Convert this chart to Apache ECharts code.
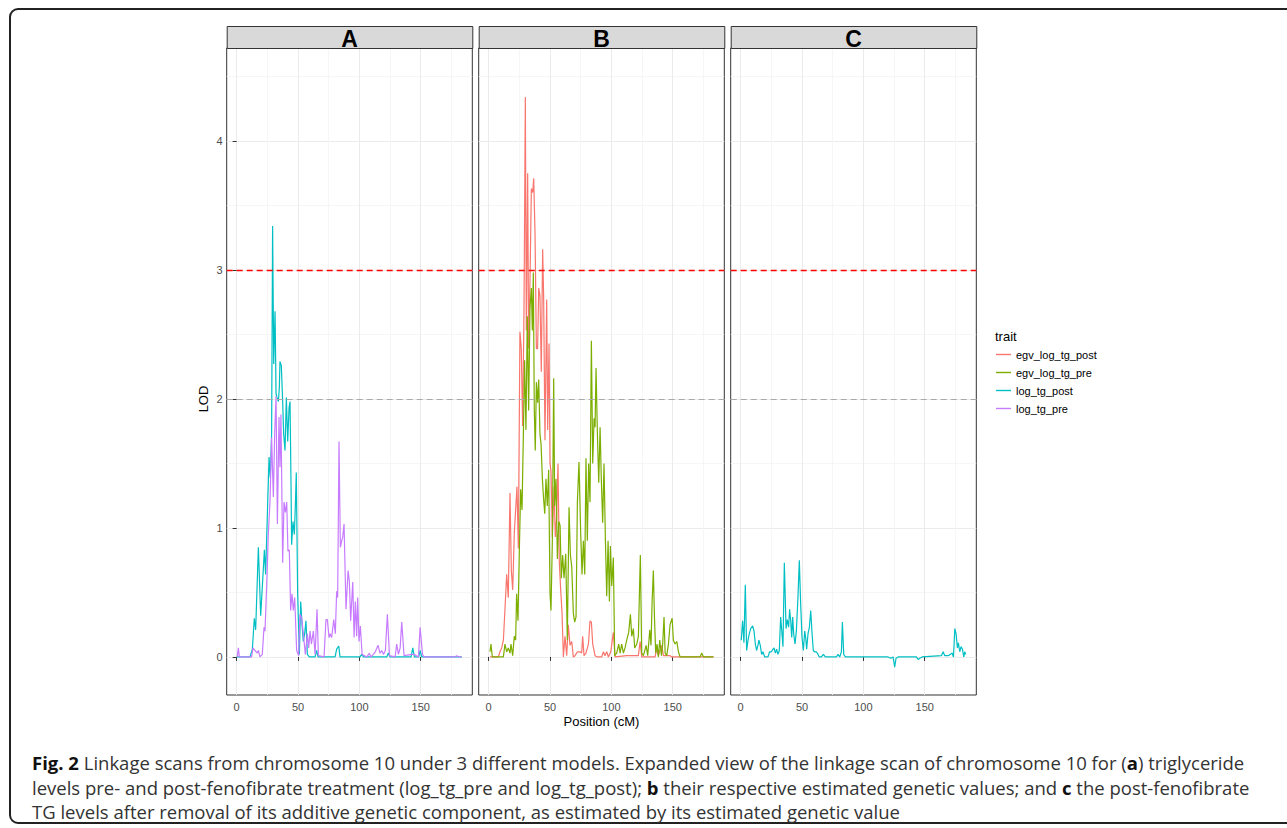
<!DOCTYPE html>
<html>
<head>
<meta charset="utf-8">
<script src="https://cdn.jsdelivr.net/npm/echarts@6/dist/echarts.min.js"></script>
<style>
  html, body { margin: 0; padding: 0; background: #fff; }
  #wrap { position: relative; width: 1287px; height: 828px; overflow: hidden; background: #fff; }
  #chart { position: absolute; left: 0; top: 0; width: 1287px; height: 828px; }
  #frame { position: absolute; left: 9px; top: 8px; width: 1320px; height: 816px; border: 2px solid #222; border-radius: 9px; box-sizing: border-box; pointer-events: none; }
  #caption { position: absolute; left: 32px; top: 751px; font-family: "Open Sans", "Noto Sans", sans-serif; font-size: 18.5px; line-height: 24.5px; color: #333; white-space: nowrap; }
  #caption b { color: #111; font-weight: 700; }
</style>
</head>
<body>
<div id="wrap">
  <div id="chart"></div>
  <div id="frame"></div>
  <div id="caption">
    <b>Fig. 2</b> Linkage scans from chromosome 10 under 3 different models. Expanded view of the linkage scan of chromosome 10 for (<b>a</b>) triglyceride<br>
    levels pre- and post-fenofibrate treatment (log_tg_pre and log_tg_post); <b>b</b> their respective estimated genetic values; and <b>c</b> the post-fenofibrate<br>
    TG levels after removal of its additive genetic component, as estimated by its estimated genetic value
  </div>
</div>
<script>
// ---------------- DATA ----------------
const panels = ['A', 'B', 'C'];
const traits = ['egv_log_tg_post', 'egv_log_tg_pre', 'log_tg_post', 'log_tg_pre'];
const traitColors = ['#F8766D', '#7CAE00', '#00BFC4', '#C77CFF'];
const xTicks = [0, 50, 100, 150];
const yTicks = [0, 1, 2, 3, 4];
const thresholdHigh = 3;
const thresholdLow = 2;

// Panel A: log_tg_post  [position cM, LOD]
const A_log_tg_post = [
  [0,0],[10.9,0],[12.8,0.06],[14.4,0.30],[15.5,0.21],[17.7,0.85],[19.6,0.32],[22.6,0.83],[23.6,0.64],
  [26.4,1.55],[27.4,1.39],[28.5,1.73],[29.3,3.34],[30.2,2.27],[31.3,2.68],[32.1,2.04],[32.9,2.01],
  [34.0,1.98],[34.8,2.09],[35.3,2.29],[36.4,2.26],[37.5,1.98],[38.3,1.73],[39.4,1.60],[40.5,2.01],
  [41.6,1.67],[42.7,1.93],[43.5,1.98],[44.3,1.34],[44.8,0.87],[45.9,1.05],[47.0,0.95],[47.8,1.16],
  [48.6,1.43],[49.7,0.49],[51.1,0.02],[52.2,0.43],[53.3,0.25],[54.3,0.12],[55.4,0.18],[56.5,0.28],
  [57.6,0.02],[59.2,0],[63.9,0],[65.2,0.05],[66.3,0],[80.2,0],[81.5,0.06],[83.2,0.085],[84.2,0],
  [100.5,0],[101.9,0.02],[103.3,0],[122.3,0],[123.6,0.03],[125,0],[142.1,0],[143.5,0.07],[144.8,0],
  [148.4,0],[149.5,0.05],[150.8,0],[183.4,0]
];
// Panel A: log_tg_pre
const A_log_tg_pre = [
  [0.5,0],[1.4,0.07],[2.2,0],[12.2,0],[13.3,0.07],[14.9,0.05],[16.8,0.03],[17.7,0.05],[19.0,0],
  [20.9,0.02],[22.3,0.23],[23.1,0.20],[24.5,0.56],[25.8,0.95],[27.2,1.21],[28.5,1.70],[29.9,1.24],
  [31.0,1.73],[32.1,2.02],[33.2,1.03],[34.5,1.86],[35.3,1.47],[36.1,1.88],[37.5,0.73],[38.6,1.20],
  [39.7,1.12],[40.8,1.20],[41.8,0.82],[42.9,0.83],[44.0,0.36],[45.1,0.49],[46.2,0.36],[47.3,0.46],
  [48.9,0.05],[50.5,0.01],[51.6,0.33],[53.0,0.30],[54.3,0.18],[56.0,0.02],[57.6,0.18],[58.7,0.07],
  [59.8,0.20],[60.9,0.10],[62.5,0.20],[63.9,0.02],[65.5,0.37],[66.6,0.01],[71.2,0],[72.8,0.29],
  [73.9,0.29],[75.3,0.15],[76.1,0.18],[77.4,0.15],[79.1,0.29],[80.4,0.18],[81.5,0.51],[82.3,0.46],
  [83.4,1.67],[84.5,0.85],[85.6,0.90],[86.4,0.93],[87.5,1.03],[89.1,0.37],[90.8,0.67],[91.8,0.59],
  [92.9,0.28],[94.6,0.58],[95.7,0.15],[96.7,0.43],[97.8,0.16],[98.6,0.46],[99.7,0.12],[100.8,0.24],
  [102.2,0.02],[106.0,0],[108.2,0.03],[109.2,0],[111.4,0.02],[113.0,0.04],[115.2,0.09],[116.8,0.03],
  [118.2,0.05],[119.6,0.02],[121.2,0.05],[122.8,0.33],[124.5,0.01],[129.1,0],[130.4,0.10],[131.8,0.02],
  [133.2,0.07],[134.5,0.27],[136.4,0.01],[142.7,0.02],[144.6,0.02],[148.1,0],[149.5,0.23],[151.4,0.02],
  [152.7,0],[178.0,0],[179.3,0.01],[180.7,0],[183.4,0]
];
// Panel B: egv_log_tg_post
const B_egv_log_tg_post = [
  [1.1,0],[7.9,0],[9.2,0.04],[10.6,0.07],[12.0,0.13],[13.3,0.37],[14.7,0.64],[16.0,0.46],[17.4,1.27],
  [18.5,0.67],[19.6,0.52],[20.9,0.96],[22.0,1.14],[23.1,1.32],[24.2,0.84],[25.5,2.52],[26.6,2.39],
  [27.7,1.79],[28.8,2.68],[29.9,4.34],[30.7,2.53],[31.8,3.75],[32.6,2.39],[33.7,2.92],[34.8,3.63],
  [35.9,3.60],[36.7,3.71],[37.8,3.28],[38.9,2.39],[39.9,2.39],[40.8,2.86],[41.8,2.80],[42.9,2.21],
  [44.0,3.16],[44.8,2.80],[45.9,1.68],[47.3,2.77],[48.1,1.76],[49.2,2.43],[50.0,1.50],[50.8,1.44],
  [51.9,0.93],[53.3,1.32],[54.3,0.93],[55.4,1.08],[56.5,1.50],[57.6,0.73],[58.7,0.52],[59.8,0.34],
  [60.9,0],[62.2,0.16],[63.6,0.01],[64.9,0.25],[66.3,0.09],[67.7,0.12],[69.0,0],[70.4,0.01],[72.3,0.04],
  [74.5,0.04],[75.8,0.03],[76.6,0.16],[77.7,0.01],[79.3,0.03],[81.3,0.10],[82.6,0.28],[83.7,0.27],
  [84.8,0.10],[86.7,0.01],[88.6,0],[92.1,0],[93.5,0.04],[94.8,0.01],[96.2,0.04],[97.6,0],[99.5,0.04],
  [101.6,0.19],[103.0,0],[112.5,0.01],[117.9,0.01],[122.0,0.01],[123.4,0.12],[124.7,0],[135.6,0],
  [137.0,0.07],[138.3,0.01],[141.0,0.09],[142.4,0.01],[147.8,0.01],[149.2,0],[183.2,0]
];
// Panel B: egv_log_tg_pre
const B_egv_log_tg_pre = [
  [1.1,0.04],[1.9,0.10],[3.0,0],[12.0,0],[13.3,0.10],[14.7,0.04],[16.0,0.07],[17.4,0.03],[18.2,0.10],
  [19.6,0.01],[20.9,0.16],[22.0,0.13],[22.8,0.49],[23.9,0.28],[25.0,0.82],[26.1,1.30],[27.2,1.14],
  [28.3,1.73],[29.3,2.30],[30.4,1.76],[31.5,2.64],[32.6,1.91],[33.7,2.71],[34.8,2.86],[35.6,2.53],
  [36.4,2.98],[37.2,1.91],[38.0,1.60],[38.9,2.13],[39.9,1.97],[40.8,2.15],[41.8,1.73],[42.7,1.65],
  [43.8,1.38],[44.6,1.25],[45.7,1.11],[46.7,1.38],[47.8,1.17],[48.9,1.45],[50.0,0.49],[50.8,0.36],
  [51.9,0.90],[53.0,2.16],[53.8,1.17],[54.9,1.38],[56.0,0.76],[57.1,1.05],[58.2,1.02],[59.2,0.61],
  [60.3,0.79],[61.4,0.61],[62.8,0.80],[64.1,0.13],[65.5,1.16],[66.6,0.79],[67.7,0.70],[69.0,0.34],
  [70.1,0.27],[71.2,0.31],[72.3,1.20],[73.6,1.51],[75.0,0.96],[76.1,0.64],[77.2,0.90],[78.3,0.64],
  [79.3,1.54],[80.4,0.90],[81.5,1.50],[82.6,1.20],[83.7,2.45],[84.8,1.50],[85.9,1.85],[86.7,1.78],
  [87.5,2.24],[88.6,1.73],[89.7,1.35],[90.8,1.78],[91.8,1.38],[92.9,1.04],[94.0,1.50],[95.1,0.92],
  [96.2,0.47],[97.3,0.90],[98.4,0.43],[99.2,0.86],[100.3,0.55],[101.6,0.77],[102.7,0.01],[104.3,0.03],
  [106.0,0.10],[107.1,0.03],[108.4,0.10],[109.8,0.03],[111.1,0.07],[112.5,0.13],[114.1,0.19],[115.5,0.33],
  [116.6,0.16],[117.9,0.22],[119.0,0.07],[120.7,0.10],[122.0,0.16],[123.6,0.79],[124.7,0.03],[126.1,0.01],
  [128.3,0.09],[129.6,0.01],[131.3,0.21],[132.3,0.09],[133.2,0.43],[134.2,0.67],[135.1,0.31],[136.1,0.03],
  [137.2,0.10],[138.3,0],[139.4,0.13],[140.8,0.01],[141.8,0.10],[142.9,0.31],[143.8,0.03],[145.1,0.01],
  [146.5,0.10],[147.8,0.25],[149.5,0.30],[150.5,0.13],[151.9,0.10],[153.3,0.12],[154.6,0.04],[156.0,0],
  [172.3,0],[173.6,0.03],[175.0,0],[183.2,0]
];
// Panel C: log_tg_post
const C_log_tg_post = [
  [0.5,0.13],[1.6,0.28],[2.7,0.11],[3.8,0.56],[4.9,0.05],[6.0,0.13],[7.1,0.18],[8.2,0.22],[9.8,0.24],
  [10.9,0.20],[12.0,0.10],[13.0,0.05],[14.1,0.09],[14.9,0.13],[16.0,0.09],[17.1,0.02],[18.2,0.04],
  [19.6,0],[22.3,0],[23.6,0.04],[25.0,0.04],[26.4,0.06],[27.2,0.07],[28.3,0.03],[29.3,0.06],[30.4,0.02],
  [31.5,0.05],[32.6,0.31],[33.7,0.18],[34.5,0.08],[35.6,0.73],[37.0,0.22],[38.0,0.29],[39.1,0.23],
  [39.9,0.37],[40.8,0.28],[41.6,0.15],[42.4,0.31],[43.2,0.18],[44.3,0.10],[45.4,0.20],[46.7,0.46],
  [47.8,0.75],[48.9,0.41],[50.0,0.15],[51.1,0.05],[52.2,0.20],[53.0,0.15],[53.8,0.06],[54.9,0.18],
  [56.0,0.23],[57.1,0.36],[58.2,0.18],[59.2,0.05],[60.3,0.04],[61.7,0.04],[63.0,0.02],[64.1,0],
  [65.8,0],[67.4,0.02],[69.0,0],[78.0,0],[79.3,0.02],[80.7,0],[82.1,0.04],[82.9,0.27],[84.0,0.02],
  [85.3,0],[103.8,0],[120.1,0],[122.3,-0.01],[124.2,0],[125.5,-0.08],[126.6,-0.01],[128.3,0],[143.2,0],
  [144.6,-0.02],[145.9,-0.01],[147.8,0],[163.6,0.01],[165.0,0.04],[166.3,0.01],[169.0,0.01],[170.9,0.02],
  [172.3,0.03],[173.4,0],[174.5,0.22],[175.5,0.18],[176.6,0.07],[177.4,0.11],[178.5,0.04],[179.6,0.08],
  [180.7,0.06],[181.8,0],[182.6,0.04],[183.4,0.02]
];

// ---------------- LAYOUT ----------------
const panelLeft = [226.7, 478.7, 730.7];
const panelW = 245.6, panelTop = 48, panelH = 647, stripH = 22;
const X_MIN = -8.1, X_MAX = 192, Y_MIN = -0.295, Y_MAX = 4.72;
const sansFont = '"Liberation Sans", Arial, Helvetica, sans-serif';

const chart = echarts.init(document.getElementById('chart'), null, { renderer: 'svg' });

const grids = panelLeft.map(l => ({
  left: l, top: panelTop, width: panelW, height: panelH,
  show: true, borderColor: '#333', borderWidth: 1, backgroundColor: 'transparent', containLabel: false
}));

const xAxes = panelLeft.map((l, i) => ({
  type: 'value', gridIndex: i, min: X_MIN, max: X_MAX,
  axisLine: { show: false },
  axisTick: { show: true, length: 4, lineStyle: { color: '#333', width: 1 }, customValues: xTicks },
  axisLabel: { show: true, customValues: xTicks, color: '#4d4d4d', fontSize: 11, margin: 6, fontFamily: sansFont },
  splitLine: { show: true, lineStyle: { color: '#ebebeb', width: 1 } },
  minorTick: { show: false, splitNumber: 2 },
  minorSplitLine: { show: true, lineStyle: { color: '#f4f4f4', width: 0.8 } }
}));

const yAxes = panelLeft.map((l, i) => ({
  type: 'value', gridIndex: i, min: Y_MIN, max: Y_MAX,
  axisLine: { show: false },
  axisTick: { show: i === 0, length: 4, lineStyle: { color: '#333', width: 1 }, customValues: yTicks },
  axisLabel: { show: i === 0, customValues: yTicks, color: '#4d4d4d', fontSize: 11, margin: 4, fontFamily: sansFont },
  splitLine: { show: true, lineStyle: { color: '#ebebeb', width: 1 } },
  minorTick: { show: false, splitNumber: 2 },
  minorSplitLine: { show: true, lineStyle: { color: '#f4f4f4', width: 0.8 } }
}));

const thresholdMarks = {
  silent: true, symbol: ['none', 'none'], label: { show: false },
  emphasis: { disabled: true }, animation: false,
  data: [
    { yAxis: thresholdHigh, lineStyle: { color: '#ff0000', type: [6, 4], width: 1.3 } },
    { yAxis: thresholdLow, lineStyle: { color: '#a9a9a9', type: [6, 4], width: 1.1 } }
  ]
};

function lineSeries(name, gridIdx, data, withMarks) {
  const s = {
    name, type: 'line', xAxisIndex: gridIdx, yAxisIndex: gridIdx, data,
    showSymbol: false, symbol: 'none', clip: true, animation: false,
    lineStyle: { width: 1.2, color: traitColors[traits.indexOf(name)] },
    itemStyle: { color: traitColors[traits.indexOf(name)] },
    emphasis: { disabled: true }
  };
  if (withMarks) s.markLine = thresholdMarks;
  return s;
}

const series = [
  lineSeries('log_tg_post', 0, A_log_tg_post, true),
  lineSeries('log_tg_pre', 0, A_log_tg_pre, false),
  lineSeries('egv_log_tg_post', 1, B_egv_log_tg_post, true),
  lineSeries('egv_log_tg_pre', 1, B_egv_log_tg_pre, false),
  lineSeries('log_tg_post', 2, C_log_tg_post, true)
];

const graphics = [];
panelLeft.forEach((l, i) => {
  graphics.push({
    type: 'rect', left: l, top: panelTop - stripH, silent: true, z: 10,
    shape: { width: panelW, height: stripH },
    style: { fill: '#d9d9d9', stroke: '#333', lineWidth: 1 }
  });
  graphics.push({
    type: 'text', x: l + panelW / 2, y: panelTop - stripH / 2 + 1.5, silent: true, z: 11,
    style: { text: panels[i], fill: '#000', font: 'bold 23px ' + sansFont, align: 'center', verticalAlign: 'middle' }
  });
});
graphics.push({
  type: 'text', x: 203, y: 399, rotation: Math.PI / 2, silent: true,
  style: { text: 'LOD', fill: '#000', font: '13px ' + sansFont, align: 'center', verticalAlign: 'middle' }
});
graphics.push({
  type: 'text', x: 601.5, y: 721, silent: true,
  style: { text: 'Position (cM)', fill: '#000', font: '13px ' + sansFont, align: 'center', verticalAlign: 'middle' }
});
graphics.push({
  type: 'text', x: 995, y: 336, silent: true,
  style: { text: 'trait', fill: '#000', font: '13px ' + sansFont, align: 'left', verticalAlign: 'middle' }
});

chart.setOption({
  animation: false,
  backgroundColor: 'transparent',
  grid: grids,
  xAxis: xAxes,
  yAxis: yAxes,
  legend: {
    orient: 'vertical', left: 996, top: 348.5, padding: 0, data: traits,
    icon: 'rect', itemWidth: 15, itemHeight: 1.4, itemGap: 6,
    textStyle: { color: '#000', fontSize: 11, lineHeight: 12, fontFamily: sansFont },
    selectedMode: false
  },
  graphic: graphics,
  series
});
</script>
</body>
</html>
